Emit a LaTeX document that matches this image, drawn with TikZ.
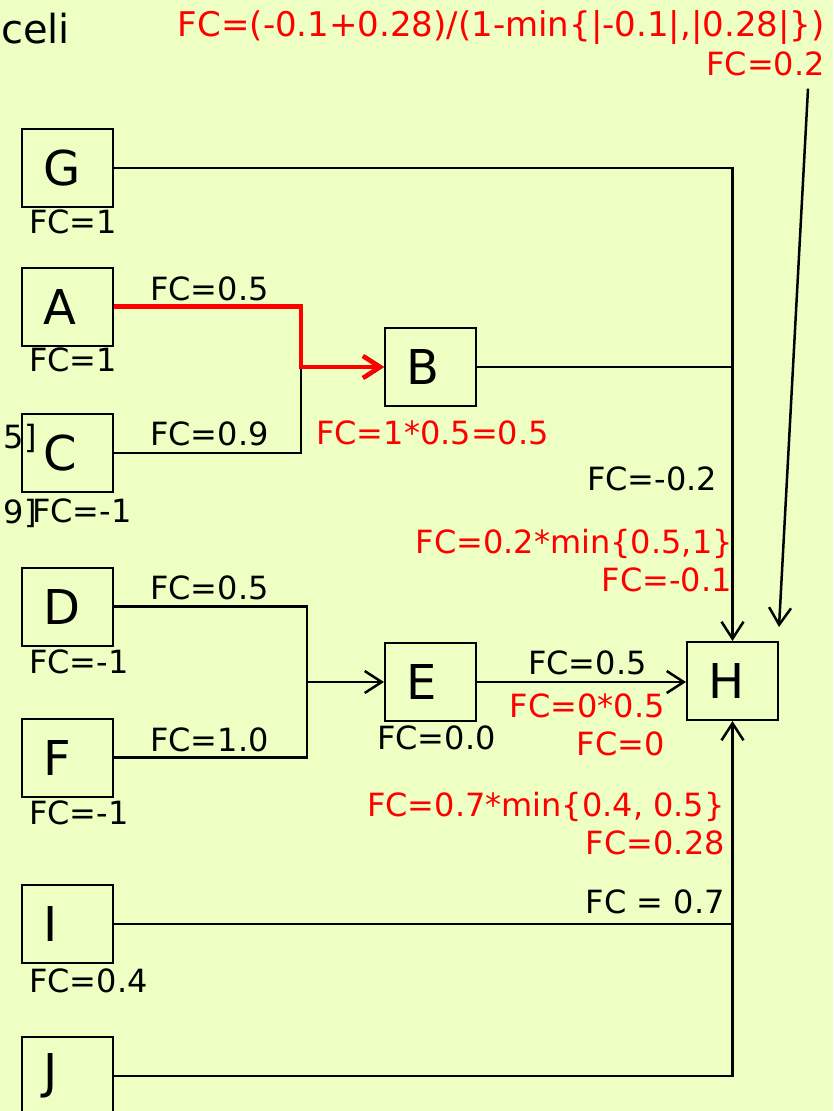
\documentclass[tikz,border=0pt]{standalone}
\usepackage{fontspec}
\setmainfont{DejaVu Sans}
\usetikzlibrary{arrows.meta}
\definecolor{bgyellow}{RGB}{238,255,196}
\begin{document}
\begin{tikzpicture}[x=1pt,y=-1pt,>={Straight Barb[length=17pt,width=22pt]},line width=2.5pt,
  box/.style={draw,line width=2pt,minimum width=91pt,minimum height=78pt,inner xsep=21pt,inner ysep=0pt,
    text width=49pt,align=left,font=\fontsize{48}{50}\selectfont},
  fc/.style={inner sep=0pt,font=\fontsize{32}{34}\selectfont},
  fcred/.style={fc,text=red}]
% background
\fill[bgyellow] (0,0) rectangle (833,1111);
\useasboundingbox (0,0) rectangle (833,1111);
\clip (0,0) rectangle (833,1111);
% left column
\node[box] (G) at (67.5,168) {G};
\node[box] (A) at (67.5,306.5) {A};
\node[box] (C) at (67.5,453) {C};
\node[box] (D) at (67.5,606.5) {D};
\node[box] (F) at (67.5,757.5) {F};
\node[box] (I) at (67.5,924) {I};
\node[box] (J) at (67.5,1076) {J};
% middle + target
\node[box] (B) at (430.5,367) {B};
\node[box] (E) at (430.5,682) {E};
\node[box] (H) at (732.5,681) {H};
% joins
\coordinate (jB) at (301,367);
\coordinate (jE) at (307,682);
% connectors
\draw[->] (G.east) -| (H.north);
\draw (B.east) -- (B.east -| H.north);
\draw (C.east) -| (jB);
\draw[->] (jB) -- (B.west);
\draw[red,line width=4.5pt,->] (A.east) -| (jB) -- (B.west);
\draw (D.east) -| (jE);
\draw (F.east) -| (jE);
\draw[->] (jE) -- (E.west);
\draw[->] (E.east) -- (E.east -| H.west);
\draw (I.east) -- (I.east -| H.south);
\draw[->] (J.east) -| (H.south);
% certainty factors of the nodes
\node[fc,anchor=base west] (gfc) at (28,233) {FC=1};
\node[fc,anchor=base west] (afc) at (28,371) {FC=1};
\node[fc,anchor=base west] (cfc) at (31,522) {FC=-1};
\node[fc,anchor=base west] (dfc) at (28,673) {FC=-1};
\node[fc,anchor=base west] (ffc) at (28,824) {FC=-1};
\node[fc,anchor=base west] (ifc) at (28,992) {FC=0.4};
\node[fc,anchor=base west] (efc) at (376,749) {FC=0.0};
\node[fc,anchor=base east] (cl1) at (38,448) {.5]};
\node[fc,anchor=base east] (cl2) at (38,523) {.9]};
% rule factors
\node[fc,anchor=base west] (ab) at (149,300) {FC=0.5};
\node[fc,anchor=base west] (cb) at (149,445) {FC=0.9};
\node[fc,anchor=base west] (de) at (149,599) {FC=0.5};
\node[fc,anchor=base west] (fe) at (149,751) {FC=1.0};
\node[fc,anchor=base west] (bh) at (586,490) {FC=-0.2};
\node[fc,anchor=base west] (eh) at (527,674) {FC=0.5};
\node[fc,anchor=base east] (ih) at (726,913) {FC = 0.7};
% calculations
\node[fcred,anchor=base west] (bcalc) at (315,444) {FC=1*0.5=0.5};
\node[fcred,anchor=base east] (bhcalc) at (734,553) {FC=0.2*min\{0.5,1\}};
\node[fcred,anchor=base east] (bhres) at (733,591) {FC=-0.1};
\node[fcred,anchor=base east] (ehcalc) at (666,717) {FC=0*0.5};
\node[fcred,anchor=base east] (ehres) at (666,755) {FC=0};
\node[fcred,anchor=base east] (ihcalc) at (726,816) {FC=0.7*min\{0.4, 0.5\}};
\node[fcred,anchor=base east] (ihres) at (726,854) {FC=0.28};
\node[fcred,anchor=base east,font=\fontsize{34}{36}\selectfont] (comb) at (826,36) {FC=(-0.1+0.28)/(1-min\{|-0.1|,|0.28|\})};
\node[fcred,anchor=base east] (res) at (826,75) {FC=0.2};
\node[anchor=base west,inner sep=0pt,font=\fontsize{40}{42}\selectfont] (title) at (0,43) {celi};
% combined result into H
\draw[->] ([xshift=-18pt,yshift=-12pt]res.south east) -- ([yshift=14pt]H.north east);
\end{tikzpicture}
\end{document}
